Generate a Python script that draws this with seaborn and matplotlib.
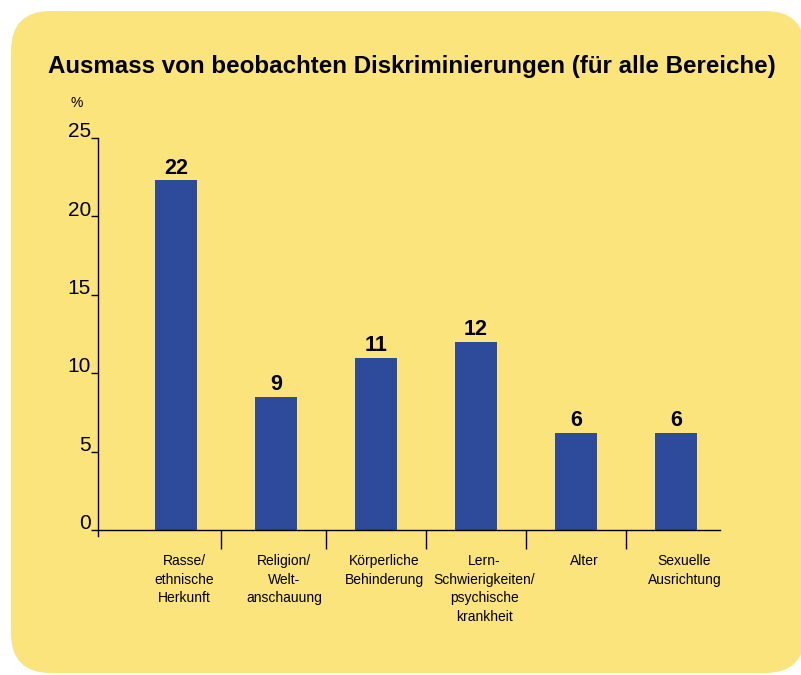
import matplotlib
matplotlib.use("Agg")
import matplotlib.pyplot as plt
import matplotlib.transforms as mtransforms
from matplotlib.patches import FancyBboxPatch
import seaborn as sns
from matplotlib import font_manager

# ------------------------------------------------------------
# data
# ------------------------------------------------------------
categories = [
    "Rasse/\nethnische\nHerkunft",
    "Religion/\nWelt-\nanschauung",
    "Körperliche\nBehinderung",
    "Lern-\nSchwierigkeiten/\npsychische\nkrankheit",
    "Alter",
    "Sexuelle\nAusrichtung",
]
values = [22.3, 8.5, 11.0, 12.0, 6.2, 6.2]
value_labels = ["22", "9", "11", "12", "6", "6"]
y_ticks = [0, 5, 10, 15, 20, 25]

yellow = "#FAE47B"
blue = "#2E4A9B"

sns.set_style("white")
plt.rcParams["font.family"] = ["Liberation Sans", "DejaVu Sans"]
plt.rcParams["text.color"] = "black"
plt.rcParams["xtick.color"] = "black"
plt.rcParams["ytick.color"] = "black"

names = {f.name for f in font_manager.fontManager.ttflist}
narrow = "Liberation Sans Narrow" if "Liberation Sans Narrow" in names else "Liberation Sans"

W, H = 801, 675
fig = plt.figure(figsize=(W / 100, H / 100), dpi=100, facecolor="white")

# yellow rounded panel behind everything (in pixel units)
px = mtransforms.Affine2D().scale(1 / W, 1 / H) + fig.transFigure
panel = FancyBboxPatch((11, 2), 794, 662,
                       boxstyle="round,pad=0,rounding_size=40",
                       transform=px, facecolor=yellow,
                       edgecolor="none", zorder=-10)
fig.patches.append(panel)

ax = fig.add_axes([98 / W, 0.18, 622 / W, 0.6388])
ax.set_facecolor("none")
ax.set_zorder(5)

sns.barplot(x=list(range(len(values))), y=values, color=blue,
            width=0.42, saturation=1, linewidth=0, ax=ax)

ax.bar_label(ax.containers[0], labels=value_labels, padding=1,
             fontsize=15.5, fontweight="bold")

ax.set_xlim(-0.78, 5.44)
ax.set_ylim(-1.5, 26)

for s in ["top", "right"]:
    ax.spines[s].set_visible(False)
ax.spines["bottom"].set_position(("data", 0))
ax.spines["left"].set_bounds(-0.4, 25)
for s in ["left", "bottom"]:
    ax.spines[s].set_color("black")
    ax.spines[s].set_linewidth(1.0)

# y axis
ax.set_yticks(y_ticks)
ax.set_yticklabels([str(t) for t in y_ticks], fontsize=15)
ax.tick_params(axis="y", length=5, width=1, pad=0, color="black", left=True)
shift_up = mtransforms.ScaledTranslation(0, 6 / 72, fig.dpi_scale_trans)
for lab in ax.get_yticklabels():
    lab.set_transform(lab.get_transform() + shift_up)

# x axis: labels under bars, tick marks between bars
ax.set_xticks(range(len(categories)))
ax.set_xticklabels(categories, fontsize=10, family=narrow, linespacing=1.45)
ax.tick_params(axis="x", which="major", length=0, pad=17)
ax.set_xticks([0.45, 1.5, 2.5, 3.5, 4.5], minor=True)
ax.tick_params(axis="x", which="minor", length=14, width=1, direction="out",
               color="black", bottom=True)
shift_right = mtransforms.ScaledTranslation(6 / 72, 0, fig.dpi_scale_trans)
for lab in ax.get_xticklabels():
    lab.set_transform(lab.get_transform() + shift_right)

ax.set_xlabel("")
ax.set_ylabel("")

fig.text(412 / W, 1 - 66 / H, "Ausmass von beobachten Diskriminierungen (für alle Bereiche)",
         ha="center", va="center", fontsize=17.4, fontweight="bold")
fig.text(77 / W, 1 - 103 / H, "%", ha="center", va="center", fontsize=10)

fig.savefig("out.png", dpi=100, facecolor="white")
